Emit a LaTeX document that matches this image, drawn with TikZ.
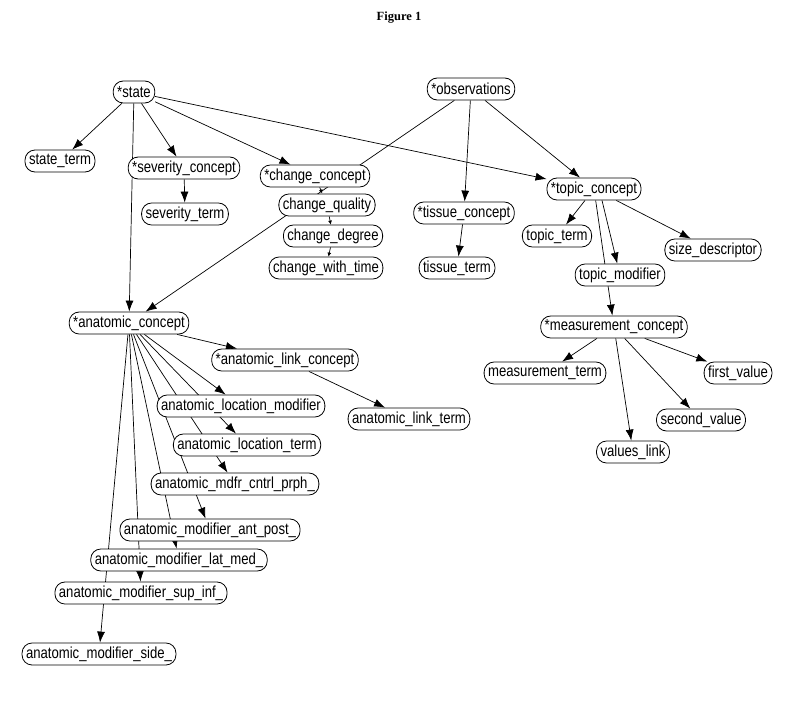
\documentclass[tikz,border=0pt]{standalone}
\usepackage{fontspec}
\setmainfont{Liberation Sans}[FakeStretch=0.82]
\newfontfamily\figfont{Liberation Serif}
\usetikzlibrary{arrows.meta,backgrounds}
\tikzset{x=1pt, y=-1pt, >={Latex[length=11pt,width=8pt]}}
\tikzset{box/.style={draw, fill=white, line width=0.8pt, rounded corners=10pt,
    minimum height=22pt, inner xsep=4pt, inner ysep=1pt,
    font=\fontsize{16}{18}\selectfont},
  link/.style={->, line width=0.7pt},
  tiny/.style={-{Latex[length=4pt,width=4pt]}, line width=0.7pt}}

\begin{document}
\begin{tikzpicture}
  \useasboundingbox (0,0) rectangle (800,717);
  \node (fig) at (399,18) {\figfont\bfseries\fontsize{12.5}{14}\selectfont Figure 1};

  % top level
  \node[box] (st) at (134,92) {*state};
  \node[box] (obs) at (471,89) {*observations};

  \node[box] (stt) at (60,161) {state\_term};
  \node[box] (sev) at (184,168) {*severity\_concept};
  \node[box] (sevt) at (185,214) {severity\_term};

  \node[box] (chg) at (315,176) {*change\_concept};
  \node[box] (chq) at (327,205) {change\_quality};
  \node[box] (chd) at (333,236) {change\_degree};
  \node[box] (chw) at (326,268) {change\_with\_time};

  \node[box] (tis) at (464,213) {*tissue\_concept};
  \node[box] (tist) at (457,268) {tissue\_term};

  \node[box] (top) at (594,189) {*topic\_concept};
  \node[box] (topt) at (557,236) {topic\_term};
  \node[box] (size) at (713,250) {size\_descriptor};
  \node[box] (topm) at (620,275) {topic\_modifier};

  \node[box] (mea) at (614,327) {*measurement\_concept};
  \node[box] (meat) at (545,373) {measurement\_term};
  \node[box] (v1) at (738,373) {first\_value};
  \node[box] (v2) at (701,420) {second\_value};
  \node[box] (vl) at (633,452) {values\_link};

  % anatomic part
  \node[box] (ana) at (129,323) {*anatomic\_concept};
  \node[box] (alc) at (285,360) {*anatomic\_link\_concept};
  \node[box] (alt) at (409,419) {anatomic\_link\_term};
  \node[box] (alm) at (241,406) {anatomic\_location\_modifier};
  \node[box] (alo) at (247,445) {anatomic\_location\_term};
  \node[box] (acp) at (235,484) {anatomic\_mdfr\_cntrl\_prph\_};
  \node[box] (aap) at (210,530) {anatomic\_modifier\_ant\_post\_};
  \node[box] (alm2) at (179,560) {anatomic\_modifier\_lat\_med\_};
  \node[box] (asi) at (141,593) {anatomic\_modifier\_sup\_inf\_};
  \node[box] (asd) at (99,654) {anatomic\_modifier\_side\_};

  \begin{scope}[on background layer]
  \draw[link] (st) to (stt);
  \draw[link] (st) to (sev);
  \draw[link] (st) to (chg);
  \draw[link] (st) to (top);
  \draw[link] (st) to (ana);
  \draw[link] (obs) to (ana);
  \draw[link] (obs) to (tis);
  \draw[link] (obs) to (top);
  \draw[link] (sev) to (sevt);
  \draw[tiny] (chg) to (chq);
  \draw[tiny] (chq) to (chd);
  \draw[tiny] (chd) to (chw);
  \draw[link] (tis) to (tist);
  \draw[link] (top) to (topt);
  \draw[link] (top) to (size);
  \draw[link] ([xshift=8pt]top.south) to (topm);
  \draw[link] (top) to (mea);
  \draw[link] (mea) to (meat);
  \draw[link] (mea) to (v1);
  \draw[link] (mea) to (v2);
  \draw[link] (mea) to (vl);
  % fan out of anatomic concept
  \foreach \t in {alc,alm,alo,acp,aap,alm2,asi,asd}
    \draw[link] (ana) to (\t);
  \draw[link] (alc) to (alt);
  \end{scope}
\end{tikzpicture}
\end{document}
